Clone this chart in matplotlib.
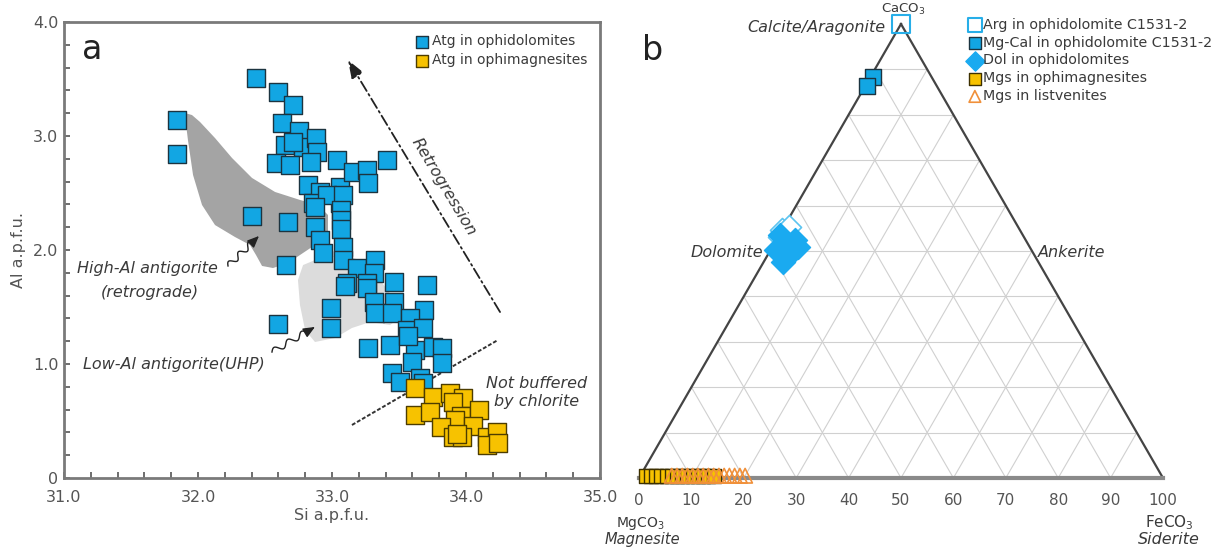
import numpy as np
import matplotlib
matplotlib.use("Agg")
import matplotlib.pyplot as plt
from matplotlib.patches import Polygon
from matplotlib.ticker import MultipleLocator, FuncFormatter
from matplotlib.transforms import IdentityTransform

plt.rcParams['font.family'] = ['DejaVu Sans']

# ---------------- Panel a data ----------------
atg_dol_si = [32.43, 32.60, 32.71, 31.84, 31.84, 32.63, 32.75, 32.65, 32.78, 32.88, 32.89,
              32.58, 32.69, 32.84, 33.04, 32.71, 32.82, 32.91, 33.06, 32.86, 33.06,
              33.41, 33.16, 33.26, 33.27, 32.96, 33.08, 32.40, 32.67, 32.87, 33.07,
              32.87, 33.07, 33.07, 32.91, 32.93, 33.08, 33.08, 32.66, 33.19, 33.32,
              33.31, 33.11, 33.26, 33.46, 33.10, 33.26, 33.71, 33.31, 33.46, 33.32,
              33.45, 33.69, 32.99, 32.99, 32.60, 33.58, 33.56, 33.68, 33.27, 33.43,
              33.62, 33.75, 33.82, 33.57, 33.60, 33.82, 33.45, 33.51, 33.66, 33.68]
atg_dol_al = [3.51, 3.39, 3.27, 3.14, 2.84, 3.11, 3.04, 2.92, 2.90, 2.98, 2.86,
              2.76, 2.75, 2.77, 2.79, 2.95, 2.57, 2.51, 2.55, 2.41, 2.41,
              2.79, 2.68, 2.70, 2.59, 2.48, 2.48, 2.30, 2.25, 2.38, 2.35,
              2.20, 2.26, 2.18, 2.09, 1.97, 2.03, 1.91, 1.87, 1.84, 1.91,
              1.80, 1.71, 1.71, 1.72, 1.68, 1.67, 1.69, 1.54, 1.54, 1.45,
              1.45, 1.47, 1.49, 1.32, 1.35, 1.40, 1.30, 1.32, 1.14, 1.17,
              1.12, 1.15, 1.14, 1.25, 1.02, 1.01, 0.92, 0.84, 0.88, 0.83]

atg_mgs_si = [33.62, 33.75, 33.88, 33.98, 33.90, 33.62, 33.73, 33.96, 34.10, 33.92,
              33.81, 34.05, 33.90, 33.97, 34.16, 34.23, 34.16, 34.24, 33.93]
atg_mgs_al = [0.79, 0.71, 0.75, 0.70, 0.67, 0.55, 0.58, 0.54, 0.60, 0.51,
              0.45, 0.46, 0.36, 0.36, 0.36, 0.40, 0.29, 0.31, 0.39]

high_al_field_si = [31.90, 31.955, 32.015, 32.127, 32.254, 32.403, 32.575, 32.761, 32.896,
                    32.97, 32.97, 32.873, 32.761, 32.672, 32.56, 32.478, 32.433, 32.388,
                    32.276, 32.127, 32.03, 31.963, 31.925]
high_al_field_al = [3.202, 3.184, 3.123, 2.982, 2.807, 2.632, 2.509, 2.439, 2.395,
                    2.307, 2.158, 2.044, 1.956, 1.886, 1.842, 1.86, 1.956, 2.044,
                    2.114, 2.219, 2.395, 2.658, 2.965]
low_al_field_si = [32.784, 32.91, 33.097, 33.246, 33.358, 33.47, 33.507, 33.433, 33.284,
                   33.149, 33.022, 32.873, 32.799, 32.761, 32.746]
low_al_field_al = [1.868, 1.93, 1.956, 1.895, 1.737, 1.561, 1.404, 1.342, 1.368,
                   1.316, 1.228, 1.193, 1.298, 1.518, 1.737]

x_ticks_a = [31.0, 32.0, 33.0, 34.0, 35.0]
y_ticks_a = [0, 1.0, 2.0, 3.0, 4.0]

# ---------------- Panel b data (mol %) ----------------
arg_fe = [0.0]
arg_ca = [100.0]
mgcal_fe = [0.5, 0.3]
mgcal_ca = [88.4, 86.4]
dol_fe = [0.1, 1.9, 3.1, 3.6, 2.2, 3.9, 1.0, 4.3, 4.9, 3.7]
dol_ca = [53.6, 52.0, 51.4, 52.5, 50.2, 49.1, 50.2, 49.8, 50.9, 47.6]
dol_open_fe = [0.0, 1.0, 0.5]
dol_open_ca = [54.6, 55.2, 53.0]
mgs_oph_fe = [1, 2, 3, 4, 5, 6, 7, 8, 9, 10, 11, 12, 13, 14]
mgs_oph_ca = [0.5, 0.5, 0.5, 0.5, 0.5, 0.5, 0.5, 0.5, 0.5, 0.5, 0.5, 0.5, 0.5, 0.5]
mgs_lis_fe = [6, 7, 8, 9, 10, 11, 12, 13, 14, 15, 16, 17, 18, 19, 20]
mgs_lis_ca = [0.5, 0.5, 0.5, 0.5, 0.5, 0.5, 0.5, 0.5, 0.5, 0.5, 0.5, 0.5, 0.5, 0.5, 0.5]
tern_ticks = [0, 10, 20, 30, 40, 50, 60, 70, 80, 90, 100]

BLUE = '#12a6e3'
YELLOW = '#f7c200'
ORANGE = '#f0903a'
TXT = '#3a3a3a'
GRAYTXT = '#555555'

W, H = 1229, 550
fig = plt.figure(figsize=(W / 100, H / 100), dpi=100)

# ================= Panel a =================
ax = fig.add_axes([64 / W, 72 / H, 536 / W, 456 / H])
ax.set_xlim(31, 35)
ax.set_ylim(0, 4)
for s in ax.spines.values():
    s.set_color('#7a7a7a')
    s.set_linewidth(2)
ax.xaxis.set_minor_locator(MultipleLocator(0.2))
ax.yaxis.set_minor_locator(MultipleLocator(0.2))
ax.set_xticks(x_ticks_a)
ax.set_yticks(y_ticks_a)
ax.xaxis.set_major_formatter(FuncFormatter(lambda v, p: f"{v:.1f}"))
ax.yaxis.set_major_formatter(FuncFormatter(lambda v, p: "0" if v == 0 else f"{v:.1f}"))
ax.tick_params(which='both', direction='in', length=4, width=1.2, color='#555555',
               labelsize=11.5, labelcolor=GRAYTXT, top=False, right=False)
ax.tick_params(axis='x', pad=9)
ax.tick_params(axis='y', pad=4)
ax.set_xlabel('Si a.p.f.u.', fontsize=11.5, color=GRAYTXT, labelpad=2)
ax.set_ylabel('Al a.p.f.u.', fontsize=11.5, color=GRAYTXT, labelpad=5)

ax.add_patch(Polygon(np.column_stack([high_al_field_si, high_al_field_al]), closed=True,
                     facecolor='#a4a4a4', edgecolor='none', zorder=1))
ax.add_patch(Polygon(np.column_stack([low_al_field_si, low_al_field_al]), closed=True,
                     facecolor='#dcdcdc', edgecolor='none', zorder=1))

ax.scatter(atg_dol_si, atg_dol_al, marker='s', s=150, facecolor=BLUE, edgecolor='#1c3440',
           linewidth=1.0, zorder=3, label='Atg in ophidolomites')
ax.scatter(atg_mgs_si, atg_mgs_al, marker='s', s=150, facecolor=YELLOW, edgecolor='#4d3d00',
           linewidth=1.0, zorder=3, label='Atg in ophimagnesites')

# Retrogression arrow
ax.annotate('', xy=(33.119, 3.667), xytext=(34.254, 1.456),
            arrowprops=dict(arrowstyle='-|>,head_length=1.1,head_width=0.4', color='#222222',
                            lw=1.3, linestyle=(0, (6, 2, 1, 2)), shrinkA=0, shrinkB=0),
            zorder=4)
ax.text(33.83, 2.55, 'Retrogression', rotation=-59, rotation_mode='anchor', ha='center',
        va='center', fontsize=11.5, style='italic', color=TXT)

# Not buffered line
ax.plot([33.149, 34.239], [0.465, 1.211], color='#333333', lw=1.4, linestyle=(0, (2, 1)),
        zorder=2)
ax.text(34.53, 0.75, 'Not buffered\nby chlorite', ha='center', va='center', fontsize=11.5,
        style='italic', color=TXT, linespacing=1.25)

ax.text(31.62, 1.84, 'High-Al antigorite', ha='center', va='center', fontsize=11.5,
        style='italic', color=TXT)
ax.text(31.64, 1.63, '(retrograde)', ha='center', va='center', fontsize=11.5,
        style='italic', color=TXT)
ax.text(31.82, 1.0, 'Low-Al antigorite(UHP)', ha='center', va='center', fontsize=11.5,
        style='italic', color=TXT)


def squiggle(axis, p0, p1, waves=2.5, amp=3.0):
    fig.canvas.draw()
    a = axis.transData.transform(p0)
    b = axis.transData.transform(p1)
    d = b - a
    L = np.hypot(*d)
    u = d / L
    n = np.array([-u[1], u[0]])
    t = np.linspace(0, 0.8, 80)
    pts = a + np.outer(t * L, u) + np.outer(amp * np.sin(2 * np.pi * waves * t / 0.8), n)
    axis.plot(pts[:, 0], pts[:, 1], color='#222222', lw=1.0, transform=IdentityTransform(),
              zorder=4, clip_on=False)
    start = axis.transData.inverted().transform(pts[-1])
    axis.annotate('', xy=p1, xytext=tuple(start),
                  arrowprops=dict(arrowstyle='-|>,head_length=0.7,head_width=0.3',
                                  color='#222222', lw=1.0, shrinkA=0, shrinkB=0), zorder=4)


squiggle(ax, (32.224, 1.86), (32.455, 2.123))
squiggle(ax, (32.552, 1.105), (32.873, 1.325))

leg = ax.legend(loc='upper right', bbox_to_anchor=(1.0, 1.0), frameon=False, fontsize=10,
                handletextpad=0.2, labelspacing=0.35, borderaxespad=0.5, markerscale=0.75,
                handlelength=1.0, labelcolor=TXT)
ax.text(0.033, 0.94, 'a', transform=ax.transAxes, fontsize=24, color='#222222',
        ha='left', va='center')

# ================= Panel b =================
h = np.sqrt(3) / 2
bx = fig.add_axes([639 / W, 72 / H, 524 / W, 454 / H])
bx.set_xlim(0, 100)
bx.set_ylim(0, 100 * h)
bx.axis('off')


def tern(fe, ca):
    fe = np.asarray(fe, dtype=float)
    ca = np.asarray(ca, dtype=float)
    return fe + ca / 2.0, ca * h


for i in range(10, 100, 10):
    x, y = tern([0, 100 - i], [i, i])
    bx.plot(x, y, color='#d0d0d0', lw=0.8, zorder=1)
    x, y = tern([i, i], [0, 100 - i])
    bx.plot(x, y, color='#d0d0d0', lw=0.8, zorder=1)
    x, y = tern([100 - i, 0], [0, 100 - i])
    bx.plot(x, y, color='#d0d0d0', lw=0.8, zorder=1)

x, y = tern([0, 0], [0, 100])
bx.plot(x, y, color='#444444', lw=1.6, zorder=2, clip_on=False)
x, y = tern([100, 0], [0, 100])
bx.plot(x, y, color='#444444', lw=1.6, zorder=2, clip_on=False)
x, y = tern([0, 100], [0, 0])
bx.plot(x, y, color='#8a8a8a', lw=3.0, zorder=2, clip_on=False)

for v in tern_ticks:
    bx.text(v, -4.2, str(v), ha='center', va='center', fontsize=11, color=GRAYTXT)

bx.text(0.2, -8.6, 'MgCO$_3$', ha='center', va='center', fontsize=10, color=TXT)
bx.text(0.6, -11.8, 'Magnesite', ha='center', va='center', fontsize=10.5, style='italic',
        color=TXT)
bx.text(101.3, -8.6, 'FeCO$_3$', ha='center', va='center', fontsize=11, color=TXT)
bx.text(101.2, -11.8, 'Siderite', ha='center', va='center', fontsize=11.5, style='italic',
        color=TXT)
bx.text(50.4, 89.3, 'CaCO$_3$', ha='center', va='center', fontsize=9.5, color=TXT)
bx.text(47.0, 86.0, 'Calcite/Aragonite', ha='right', va='center', fontsize=11.5,
        style='italic', color=TXT)
bx.text(23.7, 43.0, 'Dolomite', ha='right', va='center', fontsize=11.5, style='italic',
        color=TXT)
bx.text(76.2, 43.0, 'Ankerite', ha='left', va='center', fontsize=11.5, style='italic',
        color=TXT)

x, y = tern(mgs_lis_fe, mgs_lis_ca)
bx.scatter(x, y, marker='^', s=110, facecolor='none', edgecolor=ORANGE, linewidth=1.2,
           zorder=4, clip_on=False, label='Mgs in listvenites')
x, y = tern(mgs_oph_fe, mgs_oph_ca)
bx.scatter(x, y, marker='s', s=110, facecolor=YELLOW, edgecolor='#3d3000', linewidth=1.0,
           zorder=3, clip_on=False, label='Mgs in ophimagnesites')
x, y = tern(dol_open_fe, dol_open_ca)
bx.scatter(x, y, marker='D', s=150, facecolor='#ffffff', edgecolor='#5cc4f0', linewidth=1.2,
           zorder=3, clip_on=False)
x, y = tern(dol_fe, dol_ca)
bx.scatter(x, y, marker='D', s=150, facecolor='#1aaaf0', edgecolor='#1aaaf0', linewidth=1.0,
           zorder=3, clip_on=False, label='Dol in ophidolomites')
x, y = tern(mgcal_fe, mgcal_ca)
bx.scatter(x, y, marker='s', s=130, facecolor=BLUE, edgecolor='#1c3440', linewidth=1.0,
           zorder=3, clip_on=False, label='Mg-Cal in ophidolomite C1531-2')
x, y = tern(arg_fe, arg_ca)
bx.scatter(x, y, marker='s', s=160, facecolor='none', edgecolor='#27aee8', linewidth=1.5,
           zorder=5, clip_on=False, label='Arg in ophidolomite C1531-2')

handles, labels = bx.get_legend_handles_labels()
order = ['Arg in ophidolomite C1531-2', 'Mg-Cal in ophidolomite C1531-2',
         'Dol in ophidolomites', 'Mgs in ophimagnesites', 'Mgs in listvenites']
hmap = dict(zip(labels, handles))
bx.legend([hmap[k] for k in order], order, loc='upper left',
          bbox_to_anchor=(962 / W, (550 - 12) / H), bbox_transform=fig.transFigure,
          frameon=False, fontsize=10.3, handletextpad=0.1, labelspacing=0.27,
          borderaxespad=0.0, markerscale=0.8, handlelength=1.0, labelcolor=TXT)

fig.text(653 / W, 1 - 50 / H, 'b', fontsize=24, color='#222222', ha='center', va='center')

fig.savefig('out.png', dpi=100)
